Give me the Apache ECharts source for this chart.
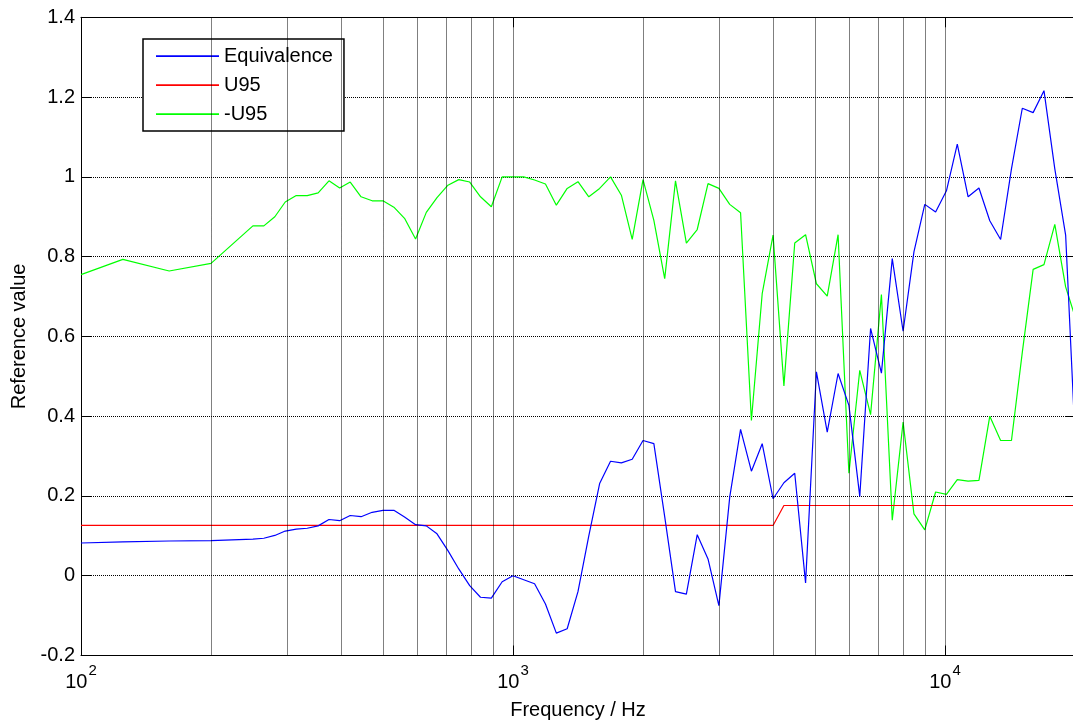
<!DOCTYPE html>
<html>
<head>
<meta charset="utf-8">
<script src="https://cdn.jsdelivr.net/npm/echarts@6/dist/echarts.min.js"></script>
<style>
  html, body { margin: 0; padding: 0; background: #fff; }
  #chart { width: 1073px; height: 725px; }
</style>
</head>
<body>
<div id="chart"></div>
<script>
// Measurement frequencies (Hz): 1/3-octave below 250 Hz, 1/12-octave above
const freqs = [
  100, 125, 160, 200,
  250, 265, 281, 297, 315, 334, 354, 375, 397, 420, 445, 472,
  500, 530, 561, 595, 630, 667, 707, 749, 794, 841, 891, 944,
  1000, 1059, 1122, 1189, 1260, 1335, 1414, 1498, 1587, 1682, 1782, 1888,
  2000, 2119, 2245, 2378, 2520, 2670, 2828, 2997, 3175, 3364, 3564, 3775,
  4000, 4238, 4490, 4757, 5040, 5339, 5657, 5993, 6350, 6727, 7127, 7551,
  8000, 8476, 8980, 9514, 10079, 10679, 11314, 11986, 12699, 13454, 14254, 15102,
  16000, 16951, 17959, 19027, 20000
];

const equivalence = [
  0.082, 0.085, 0.087, 0.088,
  0.092, 0.094, 0.101, 0.112, 0.117, 0.119, 0.125, 0.141, 0.138, 0.151, 0.148, 0.159,
  0.164, 0.164, 0.147, 0.128, 0.125, 0.105, 0.063, 0.017, -0.025, -0.054, -0.056, -0.015,
  0.000, -0.010, -0.020, -0.071, -0.144, -0.133, -0.040, 0.100, 0.231, 0.287, 0.283, 0.292,
  0.339, 0.331, 0.148, -0.040, -0.046, 0.103, 0.042, -0.075, 0.197, 0.367, 0.262, 0.331,
  0.193, 0.233, 0.257, -0.018, 0.511, 0.360, 0.507, 0.427, 0.199, 0.620, 0.508, 0.795,
  0.613, 0.812, 0.931, 0.912, 0.965, 1.082, 0.950, 0.972, 0.890, 0.843, 1.020, 1.172,
  1.161, 1.216, 1.020, 0.854, 0.350
];

const u95 = [
  0.126, 0.126, 0.126, 0.126,
  0.126, 0.126, 0.126, 0.126, 0.126, 0.126, 0.126, 0.126, 0.126, 0.126, 0.126, 0.126,
  0.126, 0.126, 0.126, 0.126, 0.126, 0.126, 0.126, 0.126, 0.126, 0.126, 0.126, 0.126,
  0.126, 0.126, 0.126, 0.126, 0.126, 0.126, 0.126, 0.126, 0.126, 0.126, 0.126, 0.126,
  0.126, 0.126, 0.126, 0.126, 0.126, 0.126, 0.126, 0.126, 0.126, 0.126, 0.126, 0.126,
  0.126, 0.176, 0.176, 0.176, 0.176, 0.176, 0.176, 0.176, 0.176, 0.176, 0.176, 0.176,
  0.176, 0.176, 0.176, 0.176, 0.176, 0.176, 0.176, 0.176, 0.176, 0.176, 0.176, 0.176,
  0.176, 0.176, 0.176, 0.176, 0.176
];

const minusU95 = [
  0.755, 0.793, 0.764, 0.783,
  0.877, 0.877, 0.900, 0.937, 0.953, 0.953, 0.960, 0.990, 0.972, 0.987, 0.950, 0.940,
  0.940, 0.924, 0.896, 0.844, 0.911, 0.948, 0.979, 0.993, 0.987, 0.950, 0.925, 1.000,
  1.000, 1.000, 0.992, 0.982, 0.929, 0.971, 0.988, 0.950, 0.971, 1.000, 0.954, 0.843,
  0.993, 0.891, 0.745, 0.990, 0.834, 0.868, 0.983, 0.971, 0.931, 0.910, 0.389, 0.707,
  0.854, 0.476, 0.834, 0.855, 0.732, 0.701, 0.855, 0.257, 0.515, 0.404, 0.705, 0.139,
  0.385, 0.155, 0.115, 0.210, 0.204, 0.241, 0.237, 0.239, 0.400, 0.339, 0.339, 0.560,
  0.768, 0.780, 0.881, 0.724, 0.650
];

// Vertical grid positions (every log decade subdivision)
const gridFreqs = [200, 300, 400, 500, 600, 700, 800, 900,
                   1000, 2000, 3000, 4000, 5000, 6000, 7000, 8000, 9000, 10000];

const seriesNames = ['Equivalence', 'U95', '-U95'];
const seriesColors = ['#0000ff', '#ff0000', '#00ff00'];

const FONT = '"Liberation Sans", Arial, Helvetica, sans-serif';

function pairs(ys) { return freqs.map((f, i) => [f, ys[i]]); }

const chart = echarts.init(document.getElementById('chart'), null, { renderer: 'canvas' });

const dotted = { color: '#000', width: 1, type: [1, 1] };

const option = {
  animation: false,
  backgroundColor: '#fff',
  textStyle: { fontFamily: FONT },
  grid: { left: 81, right: -2, top: 17.3, bottom: 69.5, show: false,
          containLabel: false, outerBoundsMode: 'none' },
  legend: {
    data: seriesNames,
    orient: 'vertical',
    left: 143, top: 39,
    padding: [7, 11, 7, 13],
    icon: 'path://M0,0H360V10H0Z',
    itemWidth: 63, itemHeight: 14, itemGap: 9,
    borderColor: '#000', borderWidth: 1.5, backgroundColor: '#fff',
    textStyle: { fontSize: 20, lineHeight: 20, color: '#000', fontFamily: FONT }
  },
  xAxis: [{
    type: 'log', logBase: 10, min: 100, max: 20000,
    position: 'bottom',
    name: 'Frequency / Hz', nameLocation: 'middle', nameGap: 45,
    nameTextStyle: { fontSize: 20, color: '#000', fontFamily: FONT },
    axisLine: { show: true, onZero: false, lineStyle: { color: '#000', width: 1 } },
    axisTick: { show: true, inside: true, length: 10, lineStyle: { color: '#000' } },
    splitLine: { show: false },
    axisLabel: {
      margin: 8, color: '#000', fontSize: 20, fontFamily: FONT,
      showMaxLabel: false,
      formatter: v => '{b|10}{e|' + Math.round(Math.log10(v)) + '}',
      rich: {
        b: { fontSize: 20, color: '#000', fontFamily: FONT, verticalAlign: 'bottom' },
        e: { fontSize: 15, color: '#000', fontFamily: FONT, verticalAlign: 'bottom', padding: [0, 0, 14, 1] }
      }
    }
  }, {
    type: 'log', logBase: 10, min: 100, max: 20000,
    position: 'top',
    axisLine: { show: true, onZero: false, lineStyle: { color: '#000', width: 1 } },
    axisTick: { show: true, inside: true, length: 10, lineStyle: { color: '#000' } },
    axisLabel: { show: false },
    splitLine: { show: false }
  }],
  yAxis: [{
    type: 'value', min: -0.2, max: 1.4, interval: 0.2,
    position: 'left',
    name: 'Reference value', nameLocation: 'middle', nameGap: 48,
    nameTextStyle: { fontSize: 20, color: '#000', fontFamily: FONT },
    axisLine: { show: true, onZero: false, lineStyle: { color: '#000', width: 1 } },
    axisTick: { show: true, inside: true, length: 10, lineStyle: { color: '#000' } },
    splitLine: { show: true, lineStyle: dotted },
    axisLabel: {
      margin: 6, color: '#000', fontSize: 20, fontFamily: FONT,
      formatter: v => String(Math.round(v * 10) / 10)
    }
  }, {
    type: 'value', min: -0.2, max: 1.4, interval: 0.2,
    position: 'right',
    axisLine: { show: true, onZero: false, lineStyle: { color: '#000', width: 1 } },
    axisTick: { show: true, inside: true, length: 10, lineStyle: { color: '#000' } },
    axisLabel: { show: false },
    splitLine: { show: false }
  }],
  series: [
    {
      name: '__grid', type: 'line', data: [], silent: true, z: 1,
      markLine: {
        silent: true, symbol: ['none', 'none'], animation: false,
        label: { show: false },
        lineStyle: dotted,
        emphasis: { disabled: true },
        data: gridFreqs.map(f => ({ xAxis: f }))
      }
    },
    {
      name: seriesNames[0], type: 'line', data: pairs(equivalence), z: 4,
      symbol: 'none', showSymbol: false,
      lineStyle: { color: seriesColors[0], width: 1.2 }, itemStyle: { color: seriesColors[0] }
    },
    {
      name: seriesNames[1], type: 'line', data: pairs(u95), z: 3,
      symbol: 'none', showSymbol: false,
      lineStyle: { color: seriesColors[1], width: 1.2 }, itemStyle: { color: seriesColors[1] }
    },
    {
      name: seriesNames[2], type: 'line', data: pairs(minusU95), z: 2,
      symbol: 'none', showSymbol: false,
      lineStyle: { color: seriesColors[2], width: 1.2 }, itemStyle: { color: seriesColors[2] }
    }
  ]
};

chart.setOption(option);
</script>
</body>
</html>
